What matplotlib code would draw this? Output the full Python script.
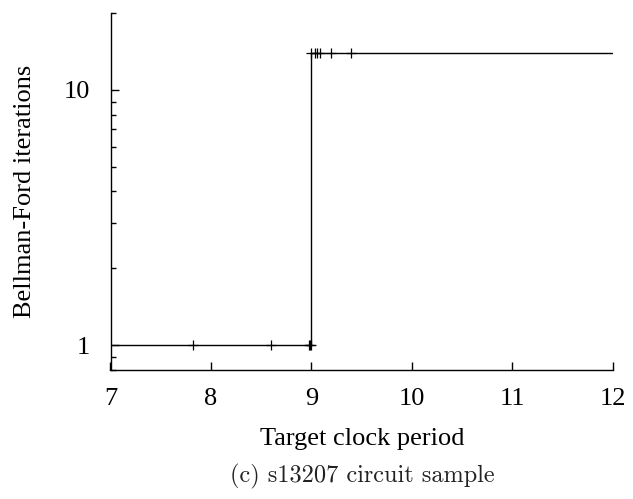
import matplotlib
matplotlib.use("Agg")
import matplotlib.pyplot as plt
from matplotlib.ticker import LogLocator, FixedLocator, NullFormatter

# Data
period = [7.0, 7.82, 8.60, 8.98, 8.99, 9.0, 9.0, 9.03, 9.05, 9.08, 9.19, 9.39, 12.0]
iterations = [1, 1, 1, 1, 1, 1, 14, 14, 14, 14, 14, 14, 14]
xticks = [7, 8, 9, 10, 11, 12]
yticks = [1, 10]
ytick_labels = ["1", "10"]

serif = ["Liberation Serif", "DejaVu Serif"]

fig = plt.figure(figsize=(6.33, 4.99), dpi=100)
ax = fig.add_axes([110.5 / 633, 1 - 370 / 499, (613 - 110.5) / 633, (370 - 13) / 499])

ax.plot(period, iterations, color="black", lw=1.0, marker="+", ms=7, mew=0.9,
        markevery=list(range(1, len(period) - 1)))

ax.set_yscale("log")
ax.set_xlim(7, 12)
ax.set_ylim(0.8, 20)

ax.set_xticks(xticks)
ax.set_xticklabels([str(t) for t in xticks], fontfamily=serif, fontsize=19)
ax.yaxis.set_major_locator(FixedLocator(yticks))
ax.set_yticklabels(ytick_labels, fontfamily=serif, fontsize=19)
ax.yaxis.set_minor_locator(LogLocator(base=10, subs=range(2, 10)))
ax.yaxis.set_minor_formatter(NullFormatter())

ax.tick_params(axis="x", which="major", direction="in", length=6, width=1, pad=13)
ax.tick_params(axis="y", which="major", direction="in", length=6, width=1, pad=15)
ax.tick_params(axis="y", which="minor", direction="in", length=3.5, width=1)
ax.tick_params(axis="x", which="both", top=False)
ax.tick_params(axis="y", which="both", right=False)

for s in ["top", "right"]:
    ax.spines[s].set_visible(False)
for s in ["left", "bottom"]:
    ax.spines[s].set_linewidth(1.0)

ax.set_xlabel("Target clock period", fontfamily=serif, fontsize=19, labelpad=13)
ax.set_ylabel("Bellman-Ford iterations", fontfamily=serif, fontsize=19, labelpad=20)

fig.text(362 / 633, 1 - 476 / 499, "(c) s13207 circuit sample", fontfamily="cmr10",
         fontsize=17.5, ha="center", va="center", color="#222222")

fig.savefig("out.png", dpi=100)
